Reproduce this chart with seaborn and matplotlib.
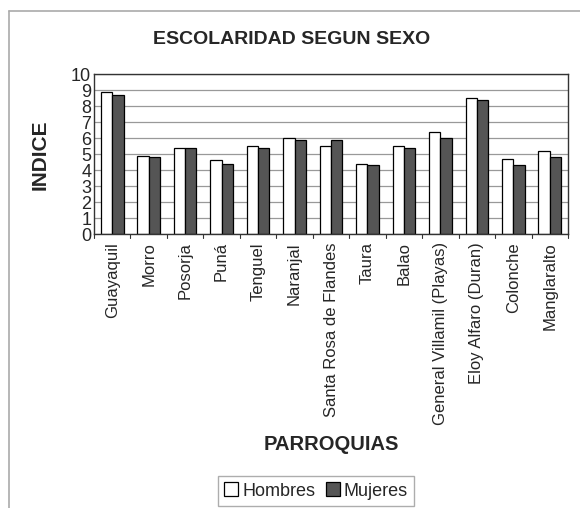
import pandas as pd
import matplotlib
matplotlib.use("Agg")
import matplotlib.pyplot as plt
import seaborn as sns
from matplotlib.lines import Line2D

# ================================
# DATA
# ================================
parroquias = ["Guayaquil", "Morro", "Posorja", "Puná", "Tenguel", "Naranjal",
              "Santa Rosa de Flandes", "Taura", "Balao", "General Villamil (Playas)",
              "Eloy Alfaro (Duran)", "Colonche", "Manglaralto"]
hombres = [8.9, 4.9, 5.4, 4.6, 5.5, 6.0, 5.5, 4.4, 5.5, 6.4, 8.5, 4.7, 5.2]
mujeres = [8.7, 4.8, 5.4, 4.4, 5.4, 5.9, 5.9, 4.3, 5.4, 6.0, 8.4, 4.3, 4.8]
series = ["Hombres", "Mujeres"]
y_ticks = list(range(0, 11))

df = pd.DataFrame({
    "parroquia": parroquias * 2,
    "sexo": [series[0]] * len(parroquias) + [series[1]] * len(parroquias),
    "indice": hombres + mujeres,
})

# ================================
# PLOT
# ================================
sns.set_theme(style="white")
plt.rcParams["font.family"] = ["Liberation Sans", "DejaVu Sans"]

fig = plt.figure(figsize=(5.8, 5.08), dpi=100)
ax = fig.add_axes([94 / 580, 1 - 234 / 508, 474 / 580, 160 / 508])

sns.barplot(data=df, x="parroquia", y="indice", hue="sexo",
            palette=["white", "#555555"], edgecolor="black", linewidth=0.9,
            width=0.62, ax=ax, legend=False)

ax.set_ylim(0, 10)
ax.set_xlim(-0.5, len(parroquias) - 0.5)
ax.set_yticks(y_ticks)
ax.set_yticklabels([str(t) for t in y_ticks], fontsize=13)
ax.yaxis.grid(True, color="#999999", linewidth=0.9)
ax.set_axisbelow(True)

ax.set_xticks(range(len(parroquias)))
ax.set_xticklabels(parroquias, rotation=90, fontsize=12)
ax.tick_params(axis="x", length=0, pad=6)
ax.tick_params(axis="y", length=0, pad=2)
# tick marks between the groups
for b in range(len(parroquias) + 1):
    ax.plot([b - 0.5, b - 0.5], [0, -0.25], color="#333333", lw=0.8,
            clip_on=False, transform=ax.transData)

for s in ax.spines.values():
    s.set_color("#333333")
    s.set_linewidth(1.0)

ax.set_xlabel("")
ax.set_ylabel("")
fig.text(292 / 580, 1 - 40 / 508, "ESCOLARIDAD SEGUN SEXO", ha="center", va="center",
         fontsize=14, fontweight="bold")
fig.text(40 / 580, 1 - 155 / 508, "INDICE", ha="center", va="center", rotation=90,
         fontsize=15, fontweight="bold")
fig.text(331 / 580, 1 - 444 / 508, "PARROQUIAS", ha="center", va="center",
         fontsize=14.5, fontweight="bold")

# legend
handles = [plt.Rectangle((0, 0), 1, 1, facecolor="white", edgecolor="black", lw=0.9),
           plt.Rectangle((0, 0), 1, 1, facecolor="#555555", edgecolor="black", lw=0.9)]
leg = fig.legend(handles, series, loc="center", bbox_to_anchor=(316 / 580, 1 - 491 / 508),
                 ncol=2, fontsize=13, frameon=True, fancybox=False, handlelength=0.8,
                 handleheight=0.8, handletextpad=0.2, columnspacing=0.6, borderpad=0.35)
leg.get_frame().set_edgecolor("#999999")
leg.get_frame().set_linewidth(1.0)

# outer chart border (left and top)
fig.add_artist(Line2D([9 / 580, 9 / 580], [0, 1 - 11 / 508], color="#aaaaaa", lw=1.2))
fig.add_artist(Line2D([9 / 580, 1], [1 - 11 / 508, 1 - 11 / 508], color="#aaaaaa", lw=1.2))

fig.savefig("out.png", dpi=100)
